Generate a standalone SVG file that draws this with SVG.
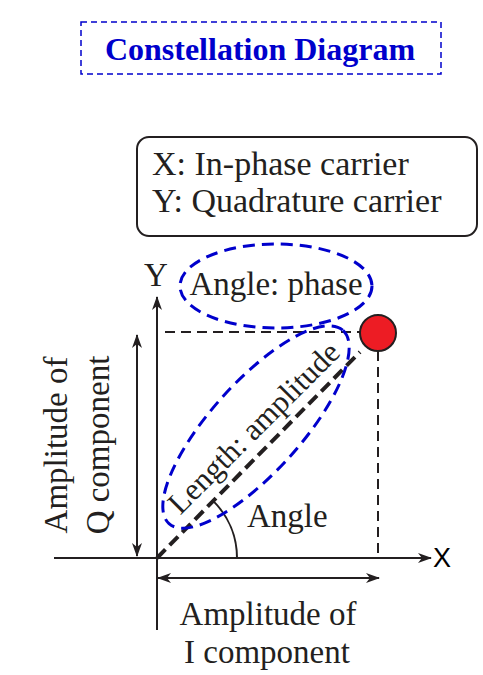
<svg xmlns="http://www.w3.org/2000/svg" width="483" height="675" viewBox="0 0 483 675">
<style>
.t{font-family:"Liberation Serif","Times New Roman",serif;font-size:33px;fill:#231f20}
.ax{stroke:#231f20;stroke-width:2;fill:none}
.dsh{stroke:#231f20;stroke-width:2;fill:none;stroke-dasharray:10 6}
.bl{stroke:#0000cc;stroke-width:3;fill:none;stroke-dasharray:12 7}
</style>
<defs>
<marker id="ah" viewBox="0 0 14 10" refX="13" refY="5" markerWidth="14" markerHeight="10" markerUnits="userSpaceOnUse" orient="auto-start-reverse">
<path d="M0,0 L14,5 L0,10 L4,5 z" fill="#231f20"/>
</marker>
</defs>
<rect width="483" height="675" fill="#fff"/>
<g id="title">
<rect x="81" y="22" width="360" height="52" fill="none" stroke="#0000cc" stroke-width="1.5" stroke-dasharray="6 4"/>
<text x="260" y="60" text-anchor="middle" style="font-family:'Liberation Serif','Times New Roman',serif;font-weight:bold;font-size:32px;fill:#0000cc">Constellation Diagram</text>
</g>
<g id="legend">
<rect x="137" y="137" width="340" height="99" rx="12" fill="#fff" stroke="#231f20" stroke-width="2"/>
<text class="t" x="152" y="175" style="font-size:34px">X: In-phase carrier</text>
<text class="t" x="152" y="212" style="font-size:34px">Y: Quadrature carrier</text>
</g>
<g id="connectors">
<line class="ax" x1="54" y1="558" x2="431" y2="558" marker-end="url(#ah)"/>
<line class="ax" x1="157" y1="630" x2="157" y2="297" marker-end="url(#ah)"/>
<line class="ax" x1="137" y1="335" x2="137" y2="556" marker-start="url(#ah)" marker-end="url(#ah)"/>
<line class="ax" x1="158" y1="578" x2="379" y2="578" marker-start="url(#ah)" marker-end="url(#ah)"/>
<line class="dsh" x1="165" y1="332" x2="360" y2="332"/>
<line class="dsh" x1="378" y1="351" x2="378" y2="558"/>
<line x1="157" y1="558" x2="360" y2="352" stroke="#231f20" stroke-width="4" stroke-dasharray="12 6"/>
<path class="ax" d="M237,558 A80,80 0 0 0 213.6,501.4"/>
</g>
<g id="point">
<circle cx="378" cy="333" r="18" fill="#ed1c24" stroke="#231f20" stroke-width="2"/>
</g>
<g id="axis-labels">
<text class="t" x="156" y="286" text-anchor="middle">Y</text>
<text x="433" y="567" style="font-family:'Liberation Sans',Arial,sans-serif;font-size:27px;fill:#000">X</text>
</g>
<g id="phase">
<ellipse class="bl" cx="276" cy="286" rx="96" ry="42"/>
<text class="t" x="276" y="295" text-anchor="middle">Angle: phase</text>
</g>
<g id="amplitude">
<ellipse class="bl" cx="256" cy="427" rx="130" ry="45" transform="rotate(-48 256 427)"/>
<text class="t" transform="translate(261 435) rotate(-45)" text-anchor="middle" style="font-size:31px">Length: amplitude</text>
</g>
<g id="angle-label">
<text class="t" x="247" y="527">Angle</text>
</g>
<g id="q-label">
<text class="t" transform="translate(67 445) rotate(-90)" text-anchor="middle">Amplitude of</text>
<text class="t" transform="translate(109 445) rotate(-90)" text-anchor="middle">Q component</text>
</g>
<g id="i-label">
<text class="t" x="268" y="625" text-anchor="middle">Amplitude of</text>
<text class="t" x="267" y="663" text-anchor="middle">I component</text>
</g>
</svg>
